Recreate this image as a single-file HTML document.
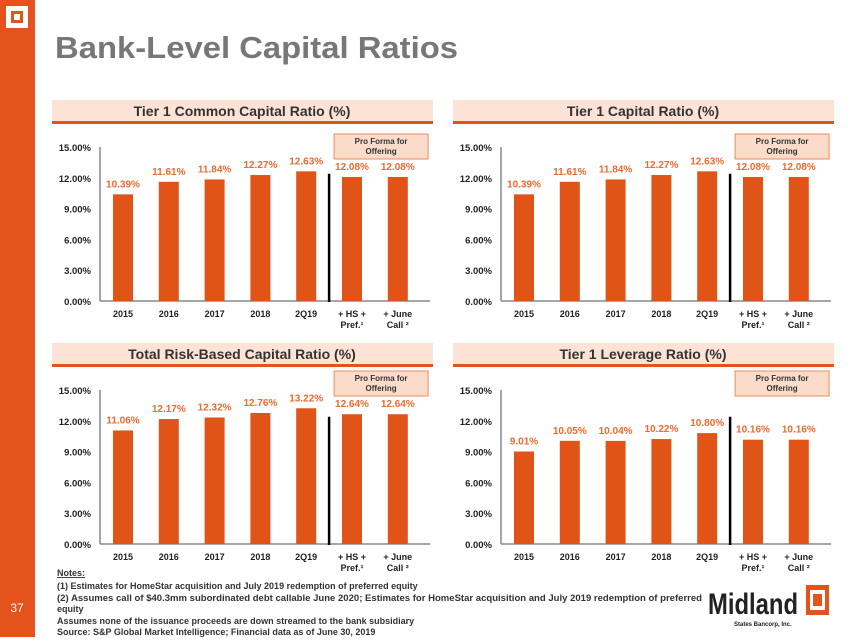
<!DOCTYPE html>
<html><head><meta charset="utf-8"><style>
html,body{margin:0;padding:0;background:#fff;}
body{width:850px;height:637px;overflow:hidden;position:relative;font-family:"Liberation Sans",Arial,sans-serif;}
svg text{font-family:"Liberation Sans",Arial,sans-serif;}
</style></head><body>
<svg id="page" width="850" height="637" viewBox="0 0 850 637">
  <rect x="0" y="0" width="35" height="637" fill="#e4531b"/>
  <g>
    <rect x="6" y="6" width="22" height="22" fill="#fff"/>
    <rect x="11" y="11" width="12" height="12" fill="#e4531b"/>
    <rect x="14" y="14" width="6" height="6" fill="#fff"/>
  </g>
  <text x="55" y="58" font-size="31" font-weight="bold" fill="#777" textLength="403" lengthAdjust="spacingAndGlyphs">Bank-Level Capital Ratios</text>
  <text x="17" y="612" font-size="12" fill="#fff" text-anchor="middle">37</text>
  <g font-size="9" font-weight="bold" fill="#333">
    <text x="57" y="576" text-decoration="underline">Notes:</text>
    <text x="57" y="589">(1) Estimates for HomeStar acquisition and July 2019 redemption of preferred equity</text>
    <text x="57" y="601" textLength="645" lengthAdjust="spacingAndGlyphs">(2) Assumes call of $40.3mm subordinated debt callable June 2020; Estimates for HomeStar acquisition and July 2019 redemption of preferred</text>
    <text x="57" y="612">equity</text>
    <text x="57" y="624">Assumes none of the issuance proceeds are down streamed to the bank subsidiary</text>
    <text x="57" y="635">Source: S&amp;P Global Market Intelligence; Financial data as of June 30, 2019</text>
  </g>
  <g>
    <text x="708" y="614" font-size="30" font-weight="bold" fill="#222" textLength="90" lengthAdjust="spacingAndGlyphs">Midland</text>
    <text x="734" y="626" font-size="6" font-weight="bold" fill="#222">States Bancorp, Inc.</text>
    <rect x="806" y="585" width="23" height="30" fill="#e4531b"/>
    <rect x="810" y="590" width="15" height="20" fill="#fff"/>
    <rect x="813" y="594" width="9" height="12" fill="#e4531b"/>
  </g>
  <g id="charts"></g>
</svg>
<script>
const categories = ["2015","2016","2017","2018","2Q19","+ HS +|Pref.\u00B9","+ June|Call \u00B2"];
const tickValues = [0,3,6,9,12,15];
const tier1CommonValues = [10.39,11.61,11.84,12.27,12.63,12.08,12.08];
const tier1CapitalValues = [10.39,11.61,11.84,12.27,12.63,12.08,12.08];
const totalRiskValues = [11.06,12.17,12.32,12.76,13.22,12.64,12.64];
const leverageValues = [9.01,10.05,10.04,10.22,10.80,10.16,10.16];
const chartTitles = ["Tier 1 Common Capital Ratio (%)","Tier 1 Capital Ratio (%)","Total Risk-Based Capital Ratio (%)","Tier 1 Leverage Ratio (%)"];

const NS = "http://www.w3.org/2000/svg";
const root = document.getElementById("charts");
function mk(tag, attrs, parent, text){
  const e = document.createElementNS(NS, tag);
  for (const k in attrs) e.setAttribute(k, attrs[k]);
  if (text !== undefined) e.textContent = text;
  parent.appendChild(e);
  return e;
}
function drawChart(ax, zeroY, title, values, slug, boxOff){
  const g = mk("g", {}, root);
  
  
  const yScale = v => zeroY - v * (154/15);
  const xScale = i => ax + 23 + i * 45.8;
  const hx = ax - 48;
  const hb = mk("rect", {x:hx, y:zeroY-201, width:381, height:21, fill:"#fde3d6"}, g);
  
  
  mk("rect", {x:hx, y:zeroY-180, width:381, height:3, fill:"#e4531b"}, g);
  const ht = mk("text", {x:hx+190, y:zeroY-185, "font-size":14, "font-weight":"bold", fill:"#333", "text-anchor":"middle"}, g, title);
  
  
  mk("line", {x1:ax, y1:yScale(15), x2:ax, y2:zeroY, stroke:"#888", "stroke-width":1.5}, g);
  mk("line", {x1:ax, y1:zeroY, x2:ax+330, y2:zeroY, stroke:"#888", "stroke-width":1.5}, g);
  tickValues.forEach(t => {
    const tl = mk("text", {x:ax-9, y:yScale(t)+4, "font-size":9.5, "font-weight":"bold", fill:"#222", "text-anchor":"end"}, g, t.toFixed(2)+"%");
    
    
  });
  const sx = (xScale(4)+xScale(5))/2;
  mk("line", {x1:sx, y1:yScale(12.4), x2:sx, y2:zeroY+1, stroke:"#000", "stroke-width":2.5}, g);
  const by = yScale(15) - boxOff;
  const pb = mk("rect", {x:sx+5, y:by, width:94, height:25, fill:"#fbdccb", stroke:"#f08a5d", "stroke-width":1}, g);
  
  
  mk("text", {x:sx+52, y:by+10, "font-size":8, "font-weight":"bold", fill:"#333", "text-anchor":"middle"}, g, "Pro Forma for");
  mk("text", {x:sx+52, y:by+20, "font-size":8, "font-weight":"bold", fill:"#333", "text-anchor":"middle"}, g, "Offering");
  values.forEach((v,i) => {
    const cx = xScale(i);
    const b = mk("rect", {x:cx-10, y:yScale(v), width:20, height:zeroY-yScale(v), fill:"#e05418"}, g);
    
    
    const vl = mk("text", {x:cx, y:yScale(v)-7, "font-size":10, "font-weight":"bold", fill:"#ee6a2e", "text-anchor":"middle"}, g, v.toFixed(2)+"%");
    
    
    const parts = categories[i].split('|');
    parts.forEach((p,j) => {
      const cl = mk("text", {x:cx, y:zeroY+16+j*11, "font-size":9, "font-weight":"bold", fill:"#222", "text-anchor":"middle"}, g, p);
      
      
    });
  });
}
drawChart(100, 301, chartTitles[0], tier1CommonValues, "tier1-common", 13);
drawChart(501, 301, chartTitles[1], tier1CapitalValues, "tier1-capital", 13);
drawChart(100, 544, chartTitles[2], totalRiskValues, "total-risk-based", 19);
drawChart(501, 544, chartTitles[3], leverageValues, "tier1-leverage", 19);
</script>
</body></html>
